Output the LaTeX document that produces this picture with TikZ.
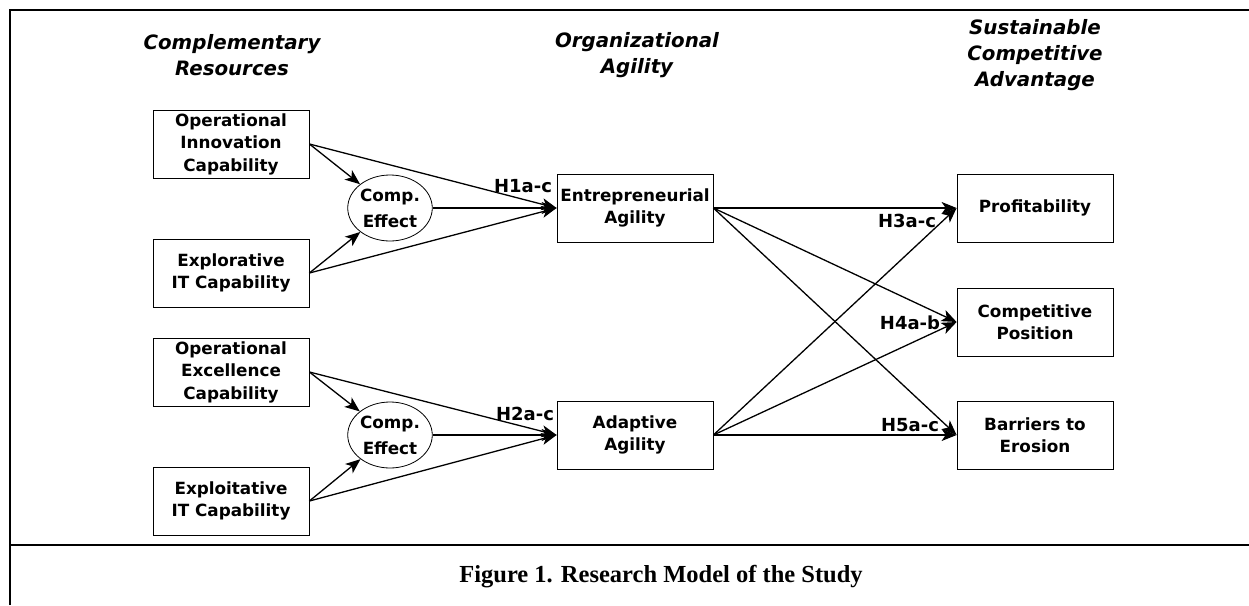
\documentclass[tikz,border=0pt]{standalone}
\usepackage{fontspec}
\setmainfont{DejaVu Sans}
\newfontfamily\capfont{Liberation Serif}
\usetikzlibrary{arrows.meta,shapes.geometric}
\tikzset{
  frameline/.style={line width=2.5pt},
  boxnode/.style={draw, line width=0.8pt, minimum width=156pt, minimum height=68pt, align=center, inner sep=0pt, font=\fontsize{16.8}{22.5}\selectfont\bfseries},
  effnode/.style={draw, ellipse, line width=0.8pt, minimum width=73pt, minimum height=66pt, align=center, inner sep=0pt, font=\fontsize{16.8}{26}\selectfont\bfseries},
  headnode/.style={align=center, font=\fontsize{19.8}{26}\selectfont\bfseries\itshape},
  hlabel/.style={font=\fontsize{18}{20}\selectfont\bfseries, inner sep=0pt},
  conn/.style={line width=1.3pt, -{Stealth[length=15pt, width=12pt, inset=4pt]}},
}
\begin{document}
\begin{tikzpicture}[x=1pt, y=-1pt]
\useasboundingbox (0,0) rectangle (1249,605);
% frame
\coordinate (fbl) at (10,605);
\coordinate (ftl) at (10,10);
\coordinate (ftr) at (1249,10);
\coordinate (fml) at (10,545);
\coordinate (fmr) at (1249,545);
\draw[frameline] (fbl) -- (ftl) -- (ftr);
\draw[frameline] (fml) -- (fmr);
% headers
\node[headnode] (h1) at (232,55) {Complementary\\Resources};
\node[headnode] (h2) at (637,55) {Organizational\\Agility};
\node[headnode] (h3) at (1035,55) {Sustainable\\Competitive\\Advantage};
% boxes
\node[boxnode] (oic) at (231,144) {Operational\\Innovation\\Capability};
\node[boxnode] (eit) at (231,273) {Explorative\\IT Capability};
\node[boxnode] (oec) at (231,372) {Operational\\Excellence\\Capability};
\node[boxnode] (xit) at (231,501) {Exploitative\\IT Capability};
\node[effnode] (ce1) at (390,208) {Comp.\\Effect};
\node[effnode] (ce2) at (390,435) {Comp.\\Effect};
\node[boxnode] (ea) at (635,208) {Entrepreneurial\\Agility};
\node[boxnode] (aa) at (635,435) {Adaptive\\Agility};
\node[boxnode] (pr) at (1035,208) {Profitability};
\node[boxnode] (cp) at (1035,322) {Competitive\\Position};
\node[boxnode] (be) at (1035,435) {Barriers to\\Erosion};
% connectors upper
\draw[conn] (oic.east) -- (ce1);
\draw[conn] (eit.east) -- (ce1);
\draw[conn] (oic.east) -- (ea.west);
\draw[conn] (eit.east) -- (ea.west);
\draw[conn] (ce1.east) -- (ea.west);
% connectors lower
\draw[conn] (oec.east) -- (ce2);
\draw[conn] (xit.east) -- (ce2);
\draw[conn] (oec.east) -- (aa.west);
\draw[conn] (xit.east) -- (aa.west);
\draw[conn] (ce2.east) -- (aa.west);
% right side
\draw[conn] (ea.east) -- (pr.west);
\draw[conn] (ea.east) -- (cp.west);
\draw[conn] (ea.east) -- (be.west);
\draw[conn] (aa.east) -- (pr.west);
\draw[conn] (aa.east) -- (cp.west);
\draw[conn] (aa.east) -- (be.west);
% labels
\node[hlabel] (l1) at (523,186) {H1a-c};
\node[hlabel] (l2) at (525,414) {H2a-c};
\node[hlabel] (l3) at (907,221) {H3a-c};
\node[hlabel] (l4) at (910,323) {H4a-b};
\node[hlabel] (l5) at (910,425) {H5a-c};
% caption
\node[font=\capfont\fontsize{24.5}{28}\selectfont\bfseries] (cap) at (661,577) {Figure 1. Research Model of the Study};
\end{tikzpicture}
\end{document}
